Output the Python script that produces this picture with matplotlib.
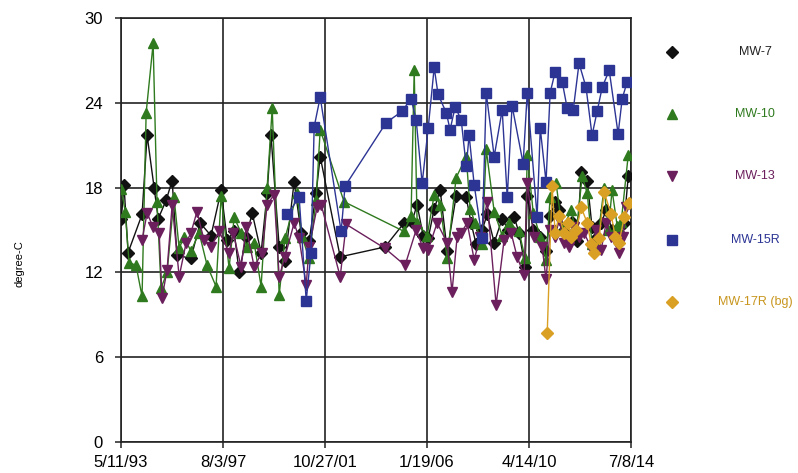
import matplotlib
matplotlib.use('Agg')
import matplotlib.pyplot as plt
import matplotlib.dates as mdates
from matplotlib.lines import Line2D
from datetime import datetime, timedelta

plt.rcParams['font.family'] = ['Liberation Sans', 'DejaVu Sans']

# sample dates as decimal years, temperatures in degree-C
t7 = [1993.37, 1993.48, 1993.65, 1994.23, 1994.44, 1994.73, 1994.90, 1995.23, 1995.48, 1995.68,
      1996.26, 1996.64, 1997.09, 1997.51, 1997.76, 1998.05, 1998.26, 1998.55, 1998.80, 1999.17,
      1999.42, 1999.58, 1999.92, 2000.16, 2000.54, 2000.83, 2001.16, 2001.45, 2001.62, 2002.45,
      2004.31, 2005.10, 2005.43, 2005.64, 2005.89, 2006.10, 2006.35, 2006.60, 2006.89, 2007.26,
      2007.68, 2007.88, 2008.09, 2008.34, 2008.55, 2008.84, 2009.17, 2009.42, 2009.67, 2009.87,
      2010.12, 2010.21, 2010.46, 2010.75, 2010.99, 2011.16, 2011.37, 2011.53, 2011.74, 2012.07,
      2012.28, 2012.45, 2012.70, 2012.90, 2013.11, 2013.28, 2013.48, 2013.73, 2014.02, 2014.23,
      2014.40]
mw7 = [15.8, 18.2, 13.4, 16.1, 21.7, 18.0, 15.8, 17.1, 18.5, 13.2,
       13.0, 15.5, 14.6, 17.8, 14.3, 14.9, 12.0, 14.5, 16.2, 13.4,
       17.6, 21.7, 13.8, 12.8, 18.4, 14.8, 14.2, 17.6, 20.2, 13.1,
       13.8, 15.5, 15.6, 16.8, 14.6, 14.4, 16.5, 17.8, 13.5, 17.4,
       17.3, 15.5, 14.0, 15.0, 16.1, 14.1, 15.8, 15.0, 15.9, 14.8,
       12.4, 17.4, 15.0, 14.5, 13.5, 16.0, 17.0, 16.4, 15.0, 15.6,
       14.2, 19.1, 18.5, 15.2, 14.5, 15.5, 16.4, 15.0, 14.8, 15.5,
       18.8]

t10 = [1993.37, 1993.53, 1993.69, 1993.98, 1994.23, 1994.40, 1994.69, 1994.85, 1995.02, 1995.27,
       1995.56, 1995.77, 1995.97, 1996.26, 1996.60, 1996.93, 1997.30, 1997.51, 1997.84, 1998.05,
       1998.34, 1998.59, 1998.88, 1999.17, 1999.42, 1999.63, 1999.92, 2000.16, 2000.66, 2000.87,
       2001.16, 2001.45, 2001.62, 2002.61, 2005.10, 2005.39, 2005.52, 2005.64, 2006.06, 2006.35,
       2006.60, 2006.89, 2007.26, 2007.68, 2007.84, 2008.05, 2008.34, 2008.51, 2008.84, 2009.17,
       2009.46, 2009.87, 2010.12, 2010.21, 2010.46, 2010.75, 2010.99, 2011.16, 2011.41, 2011.66,
       2012.03, 2012.24, 2012.49, 2012.70, 2012.90, 2013.11, 2013.40, 2013.57, 2013.73, 2013.94,
       2014.11, 2014.40]
mw10 = [17.9, 16.3, 12.7, 12.5, 10.3, 23.3, 28.2, 17.0, 10.9, 12.0,
        17.3, 13.7, 14.5, 13.5, 14.8, 12.5, 11.0, 17.4, 12.3, 15.9,
        14.8, 13.8, 14.1, 11.0, 18.0, 23.6, 10.4, 14.4, 17.6, 14.5,
        13.0, 17.1, 22.1, 17.0, 14.9, 16.0, 26.3, 15.5, 14.6, 17.5,
        16.8, 13.0, 18.7, 20.2, 16.5, 15.5, 14.0, 20.7, 16.3, 14.6,
        15.5, 14.9, 13.0, 20.3, 16.2, 14.5, 12.9, 17.3, 18.3, 15.0,
        16.4, 14.8, 18.8, 17.6, 14.0, 14.1, 18.0, 15.0, 17.8, 15.3,
        15.6, 20.3]

t13 = [1994.23, 1994.44, 1994.69, 1994.94, 1995.06, 1995.27, 1995.48, 1995.77, 1996.06, 1996.26,
       1996.51, 1996.80, 1997.09, 1997.43, 1997.84, 1998.01, 1998.34, 1998.55, 1998.88, 1999.21,
       1999.42, 1999.71, 1999.92, 2000.16, 2000.54, 2000.75, 2001.04, 2001.16, 2001.49, 2001.66,
       2002.45, 2002.70, 2004.31, 2005.14, 2005.60, 2005.89, 2006.10, 2006.47, 2006.89, 2007.09,
       2007.30, 2007.47, 2007.72, 2008.01, 2008.26, 2008.55, 2008.92, 2009.25, 2009.54, 2009.79,
       2010.08, 2010.21, 2010.50, 2010.83, 2010.99, 2011.16, 2011.37, 2011.53, 2011.74, 2011.95,
       2012.16, 2012.36, 2012.57, 2012.90, 2013.07, 2013.28, 2013.48, 2013.69, 2014.02, 2014.19,
       2014.31]
mw13 = [14.3, 16.2, 15.2, 14.8, 10.2, 12.2, 16.8, 11.7, 14.1, 14.8,
        16.3, 14.3, 13.8, 14.9, 13.4, 14.8, 12.4, 15.2, 12.4, 13.4,
        16.8, 17.5, 11.7, 13.1, 15.5, 14.4, 11.1, 13.8, 16.6, 16.8,
        11.7, 15.4, 13.7, 12.5, 15.0, 13.7, 13.6, 15.5, 14.1, 10.6,
        14.5, 14.8, 15.5, 12.9, 14.5, 17.0, 9.7, 14.3, 14.8, 13.1,
        11.8, 18.3, 14.5, 13.8, 11.5, 15.0, 14.5, 15.7, 14.1, 13.8,
        15.2, 14.5, 14.8, 13.6, 15.0, 13.6, 15.5, 14.5, 13.4, 14.5,
        16.6]

t15 = [2000.25, 2000.75, 2001.04, 2001.24, 2001.37, 2001.62, 2002.49, 2002.65, 2004.36, 2005.02,
       2005.39, 2005.60, 2005.85, 2006.10, 2006.35, 2006.51, 2006.85, 2007.01, 2007.22, 2007.47,
       2007.68, 2007.80, 2008.01, 2008.34, 2008.51, 2008.84, 2009.17, 2009.38, 2009.58, 2010.04,
       2010.21, 2010.62, 2010.75, 2010.99, 2011.16, 2011.37, 2011.66, 2011.87, 2012.12, 2012.36,
       2012.65, 2012.90, 2013.11, 2013.32, 2013.61, 2013.98, 2014.15, 2014.36]
mw15r = [16.1, 17.3, 10.0, 13.4, 22.3, 24.4, 14.9, 18.1, 22.6, 23.4,
         24.3, 22.8, 18.3, 22.2, 26.5, 24.6, 23.3, 22.1, 23.7, 22.8,
         19.5, 21.7, 18.2, 14.4, 24.7, 20.2, 23.5, 17.3, 23.8, 19.7,
         24.7, 15.9, 22.2, 18.4, 24.7, 26.2, 25.5, 23.6, 23.5, 26.8,
         25.1, 21.7, 23.4, 25.1, 26.3, 21.8, 24.3, 25.5]

t17 = [2011.04, 2011.24, 2011.37, 2011.53, 2011.74, 2011.91, 2012.03, 2012.24, 2012.45, 2012.70,
       2012.86, 2012.99, 2013.19, 2013.40, 2013.69, 2013.86, 2014.02, 2014.23, 2014.44]
mw17r = [7.7, 18.1, 14.8, 16.0, 14.8, 15.5, 14.5, 15.0, 16.6, 15.5,
         14.0, 13.4, 14.4, 17.7, 16.1, 14.5, 14.1, 15.9, 16.9]

tick_dates = ['1993-05-11', '1997-08-03', '2001-10-27', '2006-01-19', '2010-04-14', '2014-07-08']
tick_labels = ['5/11/93', '8/3/97', '10/27/01', '1/19/06', '4/14/10', '7/8/14']
y_ticks = [0, 6, 12, 18, 24, 30]


def to_num(years):
    out = []
    for y in years:
        yi = int(y)
        d = datetime(yi, 1, 1) + timedelta(days=(y - yi) * 365.25)
        out.append(mdates.date2num(d))
    return out


series = [
    ('MW-7', t7, mw7, '#111111', 'D', 6, '#222222'),
    ('MW-10', t10, mw10, '#2f7a1e', '^', 7.5, '#2f7a1e'),
    ('MW-13', t13, mw13, '#6b1f5c', 'v', 7.5, '#6b1f5c'),
    ('MW-15R', t15, mw15r, '#2c3494', 's', 7, '#2c3494'),
    ('MW-17R (bg)', t17, mw17r, '#d9a024', 'D', 6, '#c8961e'),
]

fig = plt.figure(figsize=(7.98, 4.73), dpi=100)
ax = fig.add_axes([121 / 798, 31 / 473, 510 / 798, 424 / 473])

for name, t, v, col, mk, ms, tcol in series:
    ax.plot(to_num(t), v, color=col, lw=1.0, marker=mk, ms=ms,
            markerfacecolor=col, markeredgecolor=col, zorder=3)

ticks = [mdates.date2num(datetime.strptime(d, '%Y-%m-%d')) for d in tick_dates]
ax.set_xlim(ticks[0], ticks[-1])
ax.set_xticks(ticks)
ax.set_xticklabels(tick_labels, fontsize=12)
ax.set_ylim(0, 30)
ax.set_yticks(y_ticks)
ax.set_yticklabels([str(y) for y in y_ticks], fontsize=12)
ax.tick_params(direction='out', length=4, width=1.1, color='#222222')
ax.tick_params(axis='x', pad=5)
ax.tick_params(axis='y', pad=9)
ax.grid(True, color='#222222', lw=1.2, zorder=1)
for sp in ax.spines.values():
    sp.set_color('#222222')
    sp.set_linewidth(1.2)

ax.set_ylabel('degree-C', fontsize=8)
ax.yaxis.set_label_coords(-0.19, 0.42)

# legend on the right, markers left and coloured names
leg_y = [52, 114, 176, 240, 302]
for (name, t, v, col, mk, ms, tcol), yy in zip(series, leg_y):
    fy = 1 - yy / 473
    fig.add_artist(Line2D([672 / 798], [fy], marker=mk, ms=ms, color=col,
                          markeredgecolor=col, transform=fig.transFigure))
    fig.text(755 / 798, fy, name, color=tcol, fontsize=9, ha='center', va='center')

fig.savefig('out.png', dpi=100)
